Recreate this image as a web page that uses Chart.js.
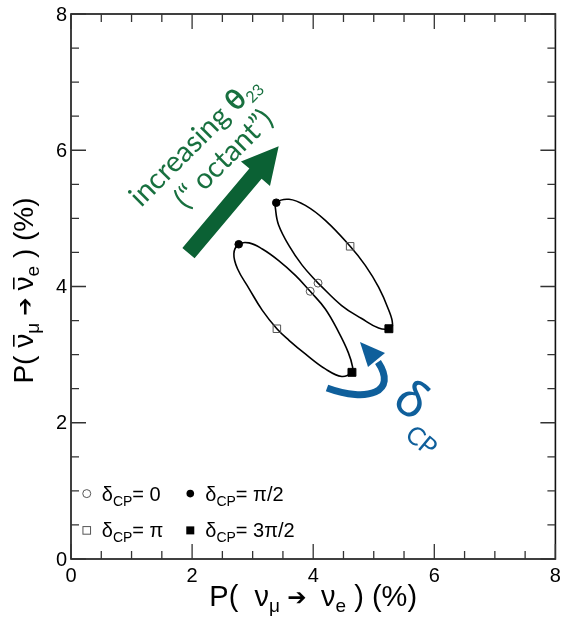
<!DOCTYPE html>
<html>
<head>
<meta charset="utf-8">
<script src="https://cdn.jsdelivr.net/npm/chart.js@4.4.1/dist/chart.umd.min.js"></script>
<style>
  html, body { margin: 0; padding: 0; background: #fff; }
  canvas { display: block; }
</style>
</head>
<body>
<canvas id="chart" width="562" height="618"></canvas>
<script>
const lowX = [3.95, 4.20, 4.42, 4.58, 4.65, 4.64, 4.47, 4.20, 3.87, 3.60, 3.40, 3.16, 2.94, 2.75, 2.69, 2.77, 2.94, 3.16, 3.43, 3.71, 3.95];
const lowY = [3.93, 3.67, 3.33, 3.03, 2.82, 2.74, 2.68, 2.79, 3.01, 3.21, 3.38, 3.65, 3.97, 4.26, 4.48, 4.62, 4.64, 4.55, 4.38, 4.16, 3.93];
// upper ellipse
const highX = [4.08, 3.82, 3.60, 3.43, 3.38, 3.39, 3.60, 3.87, 4.20, 4.61, 4.86, 5.08, 5.24, 5.31, 5.25, 5.08, 4.80, 4.47, 4.08];
const highY = [4.05, 4.31, 4.60, 4.90, 5.12, 5.23, 5.28, 5.19, 4.97, 4.59, 4.31, 3.99, 3.67, 3.45, 3.38, 3.39, 3.53, 3.72, 4.05];

// marked delta_CP values (lower ellipse, upper ellipse)
const d0X = [3.95, 4.08],      d0Y = [3.93, 4.05];
const dHalfPiX = [2.77, 3.39], dHalfPiY = [4.62, 5.23];
const dPiX = [3.40, 4.61],     dPiY = [3.38, 4.59];
const d3HalfPiX = [4.64, 5.25], d3HalfPiY = [2.74, 3.38];

const majorTicks = [0, 2, 4, 6, 8];
const minorTicks = [0.5, 1, 1.5, 2.5, 3, 3.5, 4.5, 5, 5.5, 6.5, 7, 7.5];

const legendRows = [
  { sym: 'openCircle', val: '0', sym2: 'fullCircle', val2: 'π/2' },
  { sym: 'openSquare', val: 'π', sym2: 'fullSquare', val2: '3π/2' }
];

const pts = (xs, ys) => xs.map((x, i) => ({ x: x, y: ys[i] }));

const GREEN = '#0b6134';
const GREEN_TXT = '#18703f';
const BLUE = '#0f5f9b';
const SANS = '"Liberation Sans", Arial, sans-serif';

function drawSymbol(ctx, kind, x, y) {
  ctx.save();
  if (kind === 'openCircle') {
    ctx.strokeStyle = '#555'; ctx.lineWidth = 1;
    ctx.beginPath(); ctx.arc(x, y, 4, 0, Math.PI * 2); ctx.stroke();
  } else if (kind === 'fullCircle') {
    ctx.fillStyle = '#000';
    ctx.beginPath(); ctx.arc(x, y, 3.8, 0, Math.PI * 2); ctx.fill();
  } else if (kind === 'openSquare') {
    ctx.strokeStyle = '#555'; ctx.lineWidth = 1;
    ctx.strokeRect(x - 3.8, y - 3.8, 7.6, 7.6);
  } else {
    ctx.fillStyle = '#000';
    ctx.fillRect(x - 4, y - 4, 8, 8);
  }
  ctx.restore();
}

// draws a run of text pieces (sub/superscripts, overbars) along a rotated baseline
function drawRich(ctx, parts, x, y, angle, align) {
  ctx.save();
  ctx.translate(x, y);
  ctx.rotate(angle);
  ctx.textAlign = 'left';
  ctx.textBaseline = 'alphabetic';
  let w = 0;
  parts.forEach(p => { ctx.font = p.font; p.w = ctx.measureText(p.t).width; w += p.w; });
  let cx = align === 'center' ? -w / 2 : 0;
  parts.forEach(p => {
    ctx.font = p.font;
    ctx.fillText(p.t, cx, p.dy || 0);
    if (p.bar) ctx.fillRect(cx + p.w * 0.08, p.bar, p.w * 0.84, 1.6);
    cx += p.w;
  });
  ctx.restore();
}

const framePlugin = {
  id: 'frame',
  afterDatasetsDraw(chart) {
    const ctx = chart.ctx;
    const xs = chart.scales.x, ys = chart.scales.y;
    const a = chart.chartArea;

    ctx.save();
    // frame
    ctx.strokeStyle = '#111';
    ctx.lineWidth = 1.6;
    ctx.strokeRect(a.left, a.top, a.right - a.left, a.bottom - a.top);

    // inward ticks on all four sides
    ctx.lineWidth = 1.3;
    ctx.strokeStyle = '#333';
    const tick = (v, len) => {
      const px = xs.getPixelForValue(v), py = ys.getPixelForValue(v);
      ctx.beginPath();
      ctx.moveTo(px, a.bottom); ctx.lineTo(px, a.bottom - len);
      ctx.moveTo(px, a.top); ctx.lineTo(px, a.top + len);
      ctx.moveTo(a.left, py); ctx.lineTo(a.left + len, py);
      ctx.moveTo(a.right, py); ctx.lineTo(a.right - len, py);
      ctx.stroke();
    };
    majorTicks.forEach(v => tick(v, 15));
    minorTicks.forEach(v => tick(v, 8));

    // tick labels
    ctx.fillStyle = '#000';
    ctx.font = '20px ' + SANS;
    ctx.textAlign = 'center';
    ctx.textBaseline = 'alphabetic';
    majorTicks.forEach(v => ctx.fillText(String(v), xs.getPixelForValue(v), a.bottom + 23));
    ctx.textAlign = 'right';
    ctx.textBaseline = 'middle';
    majorTicks.forEach(v => ctx.fillText(String(v), a.left - 4, ys.getPixelForValue(v) + 1));

    // axis titles
    const big = '29px ' + SANS, sub = '19px ' + SANS, arrow = '23px "DejaVu Sans", ' + SANS;
    drawRich(ctx, [
      { t: 'P( ', font: big }, { t: ' ν', font: big }, { t: 'μ', font: sub, dy: 6 },
      { t: ' ➔  ', font: arrow, dy: -1 }, { t: 'ν', font: big }, { t: 'e', font: sub, dy: 6 },
      { t: ' ) (%)', font: big }
    ], (a.left + a.right) / 2, 606, 0, 'center');
    const bigY = '28px ' + SANS, arrowY = '22px "DejaVu Sans", ' + SANS;
    drawRich(ctx, [
      { t: 'P( ', font: bigY }, { t: 'ν', font: bigY, bar: -20 }, { t: 'μ', font: sub, dy: 6 },
      { t: ' ➔ ', font: arrowY, dy: -1 }, { t: 'ν', font: bigY, bar: -20 }, { t: 'e', font: sub, dy: 6 },
      { t: ' ) (%)', font: bigY }
    ], 33, (a.top + a.bottom) / 2 + 4, -Math.PI / 2, 'center');

    // legend box in the lower left corner
    const lx1 = xs.getPixelForValue(0.26), lx2 = xs.getPixelForValue(1.97);
    const rowY = [ys.getPixelForValue(0.96), ys.getPixelForValue(0.42)];
    ctx.fillStyle = '#000';
    legendRows.forEach((r, i) => {
      const y = rowY[i];
      [[r.sym, r.val, lx1], [r.sym2, r.val2, lx2]].forEach(([s, val, x]) => {
        drawSymbol(ctx, s, x, y);
        drawRich(ctx, [
          { t: 'δ', font: '20px ' + SANS }, { t: 'CP', font: '14px ' + SANS, dy: 5 },
          { t: '= ' + val, font: '20px ' + SANS }
        ], x + 15, y + 7, 0, 'left');
      });
    });

    // green "octant" arrow
    const tx = xs.getPixelForValue(1.94), ty = ys.getPixelForValue(4.49);
    const hx = xs.getPixelForValue(3.43), hy = ys.getPixelForValue(6.06);
    const L = Math.hypot(hx - tx, hy - ty);
    ctx.save();
    ctx.translate(tx, ty);
    ctx.rotate(Math.atan2(hy - ty, hx - tx));
    ctx.fillStyle = GREEN;
    ctx.beginPath();
    ctx.moveTo(0, -8); ctx.lineTo(L - 36, -8); ctx.lineTo(L - 36, -19);
    ctx.lineTo(L, 0);
    ctx.lineTo(L - 36, 19); ctx.lineTo(L - 36, 8); ctx.lineTo(0, 8);
    ctx.closePath();
    ctx.fill();
    ctx.restore();

    ctx.fillStyle = GREEN_TXT;
    const ang = -45 * Math.PI / 180;
    drawRich(ctx, [
      { t: 'increasing ', font: '29px Lato' },
      { t: 'θ', font: 'bold 29px Lato' },
      { t: '23', font: '16px Lato', dy: 5 }
    ], 141, 208, ang, 'left');
    drawRich(ctx, [{ t: '(“ octant”)', font: '29px Lato' }], 186, 210, ang, 'left');

    // blue delta_CP arrow
    ctx.strokeStyle = BLUE;
    ctx.fillStyle = BLUE;
    ctx.lineWidth = 7;
    ctx.beginPath();
    ctx.moveTo(327, 388);
    ctx.bezierCurveTo(368, 403, 398, 392, 378, 362);
    ctx.stroke();
    ctx.beginPath();
    ctx.moveTo(360, 342); ctx.lineTo(368, 367); ctx.lineTo(385, 353);
    ctx.closePath();
    ctx.fill();

    ctx.save();
    ctx.translate(412, 400);
    ctx.rotate(35 * Math.PI / 180);
    ctx.font = '52px Lato';
    ctx.textAlign = 'center';
    ctx.textBaseline = 'middle';
    ctx.fillText('δ', 0, 0);
    ctx.restore();
    ctx.save();
    ctx.translate(421, 441);
    ctx.rotate(40 * Math.PI / 180);
    ctx.font = '25px Lato';
    ctx.textAlign = 'center';
    ctx.textBaseline = 'middle';
    ctx.fillText('CP', 0, 0);
    ctx.restore();

    ctx.restore();
  }
};

const markerBase = { showLine: false, pointBorderWidth: 1 };

new Chart(document.getElementById('chart').getContext('2d'), {
  type: 'scatter',
  data: {
    datasets: [
      Object.assign({ label: 'δCP = 0', data: pts(d0X, d0Y), pointStyle: 'circle', pointRadius: 4,
        pointBackgroundColor: 'rgba(0,0,0,0)', pointBorderColor: '#555' }, markerBase),
      Object.assign({ label: 'δCP = π/2', data: pts(dHalfPiX, dHalfPiY), pointStyle: 'circle', pointRadius: 3.8,
        pointBackgroundColor: '#000', pointBorderColor: '#000' }, markerBase),
      Object.assign({ label: 'δCP = π', data: pts(dPiX, dPiY), pointStyle: 'rect', pointRadius: 5.3,
        pointBackgroundColor: 'rgba(0,0,0,0)', pointBorderColor: '#555' }, markerBase),
      Object.assign({ label: 'δCP = 3π/2', data: pts(d3HalfPiX, d3HalfPiY), pointStyle: 'rect', pointRadius: 5.6,
        pointBackgroundColor: '#000', pointBorderColor: '#000' }, markerBase),
      { label: 'lower', data: pts(lowX, lowY), showLine: true, borderColor: '#000', borderWidth: 1.6,
        pointRadius: 0, tension: 0.4, fill: false },
      { label: 'upper', data: pts(highX, highY), showLine: true, borderColor: '#000', borderWidth: 1.6,
        pointRadius: 0, tension: 0.4, fill: false }
    ]
  },
  options: {
    responsive: false,
    animation: false,
    events: [],
    layout: { padding: { left: 71, right: 4, top: 14, bottom: 59 } },
    plugins: { legend: { display: false }, tooltip: { enabled: false } },
    scales: {
      x: { type: 'linear', min: 0, max: 8, display: false },
      y: { type: 'linear', min: 0, max: 8, display: false }
    }
  },
  plugins: [framePlugin]
});
</script>
</body>
</html>
